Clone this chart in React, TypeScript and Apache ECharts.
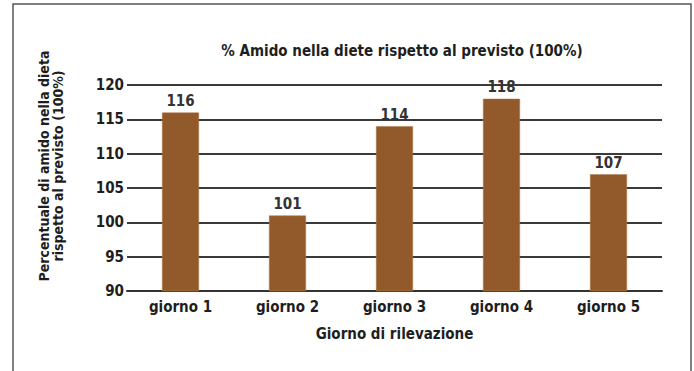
import React, { useEffect, useRef } from "react";
import * as echarts from "echarts";

const days = ["giorno 1", "giorno 2", "giorno 3", "giorno 4", "giorno 5"];
const starchPct = [116, 101, 114, 118, 107];
const yTicks = { min: 90, max: 120, interval: 5 };

const chartTitle = "% Amido nella diete rispetto al previsto (100%)";
const yTitle = "Percentuale di amido nella dieta\nrispetto al previsto (100%)";
const xTitle = "Giorno di rilevazione";

const FONT = "'DejaVu Sans Condensed', 'Liberation Sans Narrow', Arial, sans-serif";
const INK = "#1e1e1e";

export default function App() {
  const ref = useRef<HTMLDivElement>(null);

  useEffect(() => {
    if (!ref.current) return;
    const chart = echarts.init(ref.current, null, { renderer: "svg" });
    chart.setOption({
      animation: false,
      backgroundColor: "#ffffff",
      textStyle: { fontFamily: FONT },
      title: {
        text: chartTitle,
        left: 397,
        top: 38,
        textAlign: "center",
        textStyle: { fontFamily: FONT, fontSize: 15, fontWeight: "bold", color: INK },
      },
      graphic: [
        {
          type: "rect",
          shape: { x: 13, y: 4, width: 678, height: 380 },
          style: { fill: "none", stroke: "#555555", lineWidth: 1.5 },
          silent: true,
        },
        {
          type: "text",
          x: 51,
          y: 166,
          rotation: Math.PI / 2,
          silent: true,
          style: {
            text: yTitle,
            font: `bold 14px ${FONT}`,
            fill: INK,
            align: "center",
            verticalAlign: "middle",
            lineHeight: 14,
          },
        },
      ],
      grid: { left: 127, right: 32, top: 85, bottom: 80, containLabel: false },
      xAxis: {
        type: "category",
        data: days,
        name: xTitle,
        nameLocation: "middle",
        nameGap: 35,
        nameTextStyle: { fontFamily: FONT, fontSize: 15, fontWeight: "bold", color: INK },
        axisLine: { lineStyle: { color: "#333333", width: 2 } },
        axisTick: { show: false },
        axisLabel: { fontFamily: FONT, fontSize: 15, fontWeight: "bold", color: INK, margin: 8 },
      },
      yAxis: {
        type: "value",
        min: yTicks.min,
        max: yTicks.max,
        interval: yTicks.interval,
        axisLine: { show: false },
        axisTick: { show: false },
        axisLabel: { fontFamily: FONT, fontSize: 15, fontWeight: "bold", color: INK, margin: 3 },
        splitLine: { lineStyle: { color: "#3a3a3a", width: 2 } },
      },
      series: [
        {
          type: "bar",
          data: starchPct,
          barWidth: 37,
          itemStyle: { color: "#925a2a", borderColor: "#b07a4a", borderWidth: 0.5 },
          label: {
            show: true,
            position: "top",
            distance: 4,
            fontFamily: FONT,
            fontSize: 15,
            fontWeight: "bold",
            color: "#333333",
          },
        },
      ],
    });
    return () => chart.dispose();
  }, []);

  return (
    <div
      ref={ref}
      style={{ position: "fixed", left: 0, top: 0, width: 694, height: 371, background: "#fff" }}
    />
  );
}
